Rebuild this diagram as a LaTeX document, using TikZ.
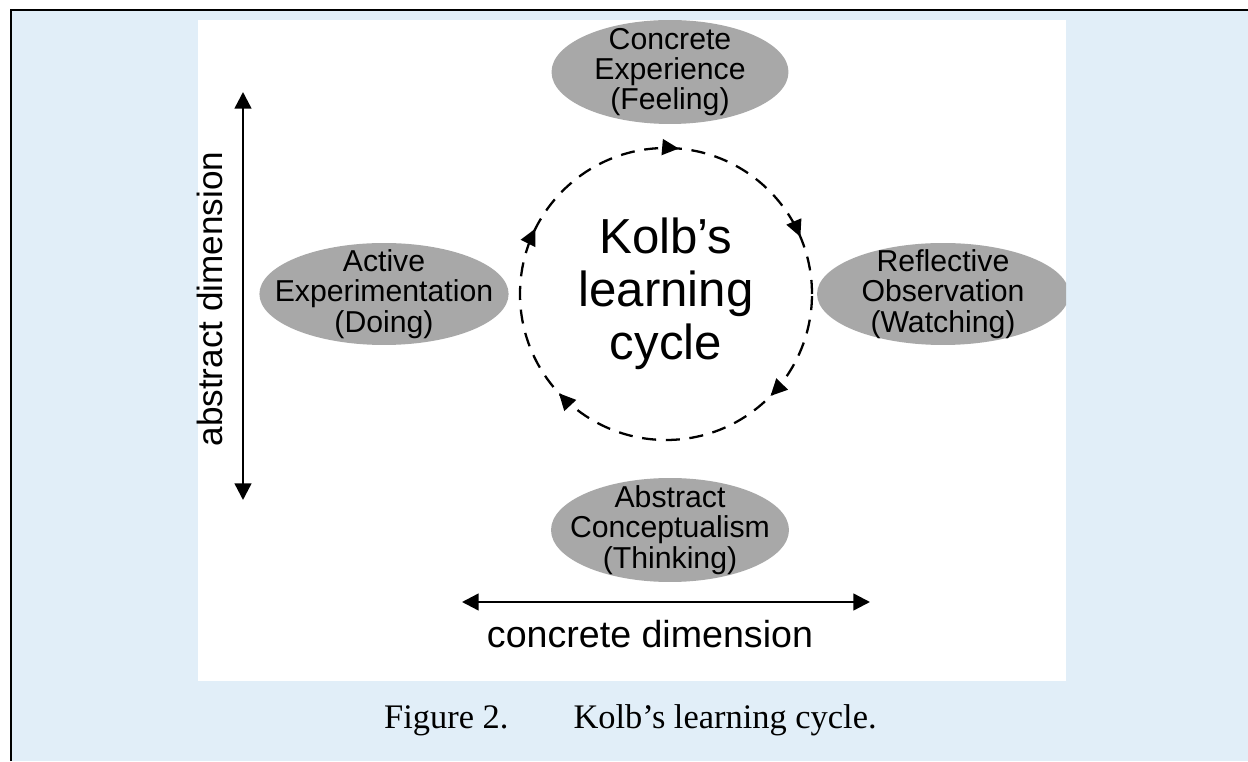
\documentclass[tikz,border=0pt]{standalone}
\usepackage{fontspec}
\setmainfont{Liberation Sans}
\newfontfamily\capfont{Liberation Serif}
\usepackage{tikz}
\usetikzlibrary{arrows.meta,positioning,shapes.geometric,decorations.markings}

\definecolor{panelblue}{RGB}{225,238,248}
\definecolor{stagegray}{RGB}{168,168,168}

\begin{document}
\begin{tikzpicture}[x=0.02cm,y=0.02cm,
  stage/.style={ellipse,fill=stagegray,inner xsep=-12pt,inner ysep=-12pt,align=center,
    font=\fontsize{17.2}{17.3}\selectfont},
  dimarrow/.style={{Triangle[length=9.5pt,width=9.5pt]}-{Triangle[length=9.5pt,width=9.5pt]},line width=1.4pt},
  cycleline/.style={line width=1.3pt,dash pattern=on 8pt off 5.5pt,postaction={decorate},
    decoration={markings,
      mark=at position 0.064 with {\arrowreversed{Triangle[length=9.5pt,width=9pt]}},
      mark=at position 0.236 with {\arrowreversed{Triangle[length=9.5pt,width=9pt]}},
      mark=at position 0.426 with {\arrowreversed{Triangle[length=9.5pt,width=9pt]}},
      mark=at position 0.619 with {\arrowreversed{Triangle[length=9.5pt,width=9pt]}},
      mark=at position 0.877 with {\arrowreversed{Triangle[length=9.5pt,width=9pt]}}}}]
\useasboundingbox (0,0) rectangle (1248,761);
% panel
\fill[white] (0,0) rectangle (1248,761);
\fill[panelblue] (11,0) rectangle (1248,751);
\draw[line width=1.2pt] (11,0) -- (11,751) -- (1248,751);
\fill[white] (198,80) rectangle (1066,741);

% four stages
\begin{scope}
\clip (198,80) rectangle (1066,741);
\node[stage,minimum width=4.74cm,minimum height=2.08cm] (ce) at (670,689) {Concrete\\Experience\\(Feeling)};
\node[stage,minimum width=5.04cm,minimum height=2.04cm] (ro) at (943,467) {Reflective\\Observation\\(Watching)};
\node[stage,minimum width=4.76cm,minimum height=2.08cm] (ac) at (670,231) {Abstract\\Conceptualism\\(Thinking)};
\node[stage,minimum width=4.96cm,minimum height=2.04cm] (ae) at (384,467) {Active\\Experimentation\\(Doing)};
\end{scope}

% cycle
\node[align=center,font=\fontsize{28}{30.2}\selectfont] (kolb) at (666,467) {Kolb’s\\learning\\cycle};
\draw[cycleline] (kolb.center) circle[radius=146];

% dimensions
\coordinate (abstop) at (243,669);
\coordinate (absbot) at (243,261);
\coordinate (conleft) at (462,159);
\coordinate (conright) at (870,159);
\draw[dimarrow] (abstop) -- (absbot);
\draw[dimarrow] (conleft) -- (conright);
\node[rotate=90,anchor=base,font=\fontsize{20}{24}\selectfont] (abslabel) at (222,462) {abstract dimension};
\node[anchor=base,font=\fontsize{21.4}{24}\selectfont] (conlabel) at (650,113) {concrete dimension};

% caption
\node[anchor=base west,font=\capfont\fontsize{19.6}{22}\selectfont] (caption) at (378,32) {Figure 2.\hspace{37pt}Kolb’s learning cycle.};
\end{tikzpicture}
\end{document}
